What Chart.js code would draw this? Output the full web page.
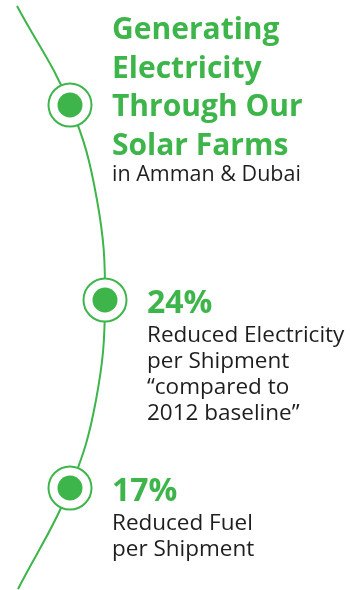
<!DOCTYPE html>
<html>
<head>
<meta charset="utf-8">
<script src="https://cdn.jsdelivr.net/npm/chart.js@4"></script>
<style>
  html, body { margin: 0; padding: 0; background: #fff; }
  #wrap { width: 350px; height: 590px; }
</style>
</head>
<body>
<div id="wrap"><canvas id="myChart" width="350" height="590"></canvas></div>
<script>
// Линия (дуга) — точки
const pathX = [17, 70, 97, 105, 96, 70, 18];
const pathY = [6, 105, 200, 300, 400, 488, 589];

// Маркеры
const markerX = [70, 105, 70];
const markerY = [105, 300, 488];

// Тексты
const titleLines = ["Generating", "Electricity", "Through Our", "Solar Farms"];
const subtitle = "in Amman & Dubai";
const values = ["", "24%", "17%"];
const descriptions = [
  [],
  ["Reduced Electricity", "per Shipment", "\u201Ccompared to", "2012 baseline\u201D"],
  ["Reduced Fuel", "per Shipment"]
];

const green = "#3db54a";
const dark = "#1e1e1e";
const FONT = "'Open Sans', sans-serif";

// Подписи рисуем плагином относительно маркеров
const labelsPlugin = {
  id: "labels",
  afterDatasetsDraw(chart) {
    const ctx = chart.ctx;
    const meta = chart.getDatasetMeta(0);
    ctx.save();
    ctx.textBaseline = "alphabetic";
    ctx.textAlign = "left";
    meta.data.forEach(function (pt, i) {
      const tx = pt.x + 42;
      if (i === 0) {
        ctx.fillStyle = green;
        ctx.font = "bold 30px " + FONT;
        titleLines.forEach(function (line, k) {
          ctx.fillText(line, tx, 39 + k * 38.5);
        });
        ctx.fillStyle = dark;
        ctx.font = "21.5px " + FONT;
        ctx.fillText(subtitle, tx, 181);
        return;
      }
      ctx.fillStyle = green;
      ctx.font = "bold 32px " + FONT;
      ctx.fillText(values[i], tx, pt.y + 13);
      ctx.fillStyle = dark;
      ctx.font = "22.5px " + FONT;
      descriptions[i].forEach(function (line, k) {
        ctx.fillText(line, tx, pt.y + 42 + k * 26);
      });
    });
    ctx.restore();
  }
};

const ctx = document.getElementById("myChart");

new Chart(ctx, {
  type: "scatter",
  data: {
    datasets: [
      {
        // точка внутри
        data: markerX.map((x, i) => ({ x: x, y: markerY[i] })),
        pointRadius: 12.5,
        pointBackgroundColor: green,
        pointBorderWidth: 0,
        order: 0,
      },
      {
        // кольцо
        data: markerX.map((x, i) => ({ x: x, y: markerY[i] })),
        pointRadius: 21.5,
        pointBackgroundColor: "#fff",
        pointBorderColor: green,
        pointBorderWidth: 2,
        order: 1,
      },
      {
        type: "line",
        data: pathX.map((x, i) => ({ x: x, y: pathY[i] })),
        borderColor: green,
        borderWidth: 2,
        pointRadius: 0,
        tension: 0.4,
        fill: false,
        order: 2,
      },
    ],
  },
  options: {
    responsive: false,
    devicePixelRatio: 1,
    animation: false,
    clip: false,
    layout: { padding: 0, autoPadding: false },
    plugins: {
      legend: { display: false },
      tooltip: { enabled: false },
    },
    scales: {
      x: { type: "linear", min: 0, max: 350, display: false },
      y: { type: "linear", min: 0, max: 590, reverse: true, display: false },
    },
  },
  plugins: [labelsPlugin],
});
</script>
</body>
</html>
